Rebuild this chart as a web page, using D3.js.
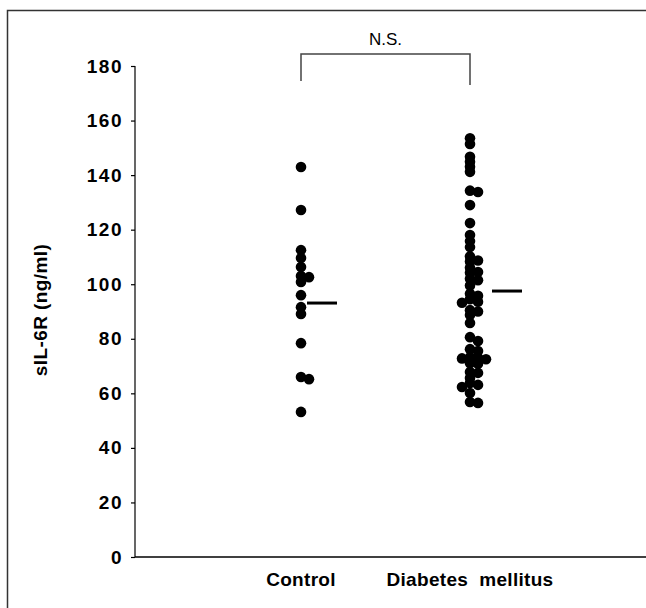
<!DOCTYPE html>
<html>
<head>
<meta charset="utf-8">
<script src="https://cdn.jsdelivr.net/npm/d3@7"></script>
<style>
  body { margin: 0; background: #fff; }
  svg text { font-family: "Liberation Sans", Arial, sans-serif; }
</style>
</head>
<body>
<svg width="646" height="608"></svg>
<script>
// values (ng/ml)
var groups = ["Control", "Diabetes  mellitus"];

var controlValues = [143, 127.2, 112.5, 109.6, 106.3, 103, 102.6, 100.8, 96, 91.6,
    89.1, 78.4, 66, 65.2, 53.2];

var diabetesValues = [153.5, 151.4, 146.7, 144.9, 143.1, 141.2, 134.3, 133.8, 129,
    122.4, 118, 115.8, 113.6, 110.2, 108.7, 108.3, 106, 104.5, 104.2, 102, 101.5, 99.5,
    96.5, 95.8, 94.5, 93.6, 93.2, 90.5, 90, 88.7, 85.8, 80.6, 79.2, 76.2, 75.5, 73.2,
    73, 72.8, 72.5, 71, 70.8, 67.8, 67.5, 65.6, 63.8, 63.1, 62.3, 60.1, 56.8, 56.5];

var groupMeans = [93.1, 97.5];
var yTicks = [0, 20, 40, 60, 80, 100, 120, 140, 160, 180];
var yTitle = "sIL-6R (ng/ml)";
var sigLabel = "N.S.";

var svg = d3.select("svg");
var width = +svg.attr("width");
var height = +svg.attr("height");

// frame around the figure (only top and left show)
svg.append("path")
    .attr("d", "M7.5," + height + "V10.5H" + width)
    .attr("fill", "none")
    .attr("stroke", "#333")
    .attr("stroke-width", 1.5);

var x = d3.scalePoint().domain(groups).range([301, 470]);
var y = d3.scaleLinear().domain([0, 180]).range([557, 66]);
var axisLeftX = 135;

// y axis
var yAxis = svg.append("g")
    .attr("transform", "translate(" + axisLeftX + ",0)")
    .call(d3.axisLeft(y).tickValues(yTicks).tickSize(4).tickPadding(8));
yAxis.select(".domain").attr("d", "M0," + y(180) + "V" + y(0)).attr("stroke-width", 1.2);
yAxis.selectAll(".tick line").attr("stroke-width", 1.2);
yAxis.selectAll("text")
    .attr("font-size", 19)
    .attr("font-weight", "bold")
    .attr("letter-spacing", 1.5)
    .attr("font-family", "Liberation Sans, Arial, sans-serif")
    .attr("fill", "#000");

// x axis line
svg.append("line")
    .attr("x1", axisLeftX).attr("x2", width)
    .attr("y1", y(0)).attr("y2", y(0))
    .attr("stroke", "#000")
    .attr("stroke-width", 1.5);

svg.selectAll(".group-label")
    .data(groups)
    .enter().append("text")
    .attr("class", "group-label")
    .attr("x", function (d) { return x(d); })
    .attr("y", 586)
    .attr("text-anchor", "middle")
    .attr("font-size", 19)
    .attr("font-weight", "bold")
    .attr("letter-spacing", 0.3)
    .style("white-space", "pre")
    .text(function (d) { return d; });

svg.append("text")
    .attr("transform", "translate(47," + 310 + ") rotate(-90)")
    .attr("text-anchor", "middle")
    .attr("font-size", 19)
    .attr("font-weight", "bold")
    .attr("letter-spacing", 0.4)
    .text(yTitle);

// significance bracket
var bracketY = 54;
svg.append("path")
    .attr("d", "M" + x(groups[0]) + ",81V" + bracketY + "H" + x(groups[1]) + "V85")
    .attr("fill", "none")
    .attr("stroke", "#444")
    .attr("stroke-width", 1.5);
svg.append("text")
    .attr("x", (x(groups[0]) + x(groups[1])) / 2)
    .attr("y", 45)
    .attr("text-anchor", "middle")
    .attr("font-size", 17)
    .text(sigLabel);

// simple beeswarm: dots moved sideways only when they nearly coincide
var step = 8, minDist = 4.8, r = 5.3;
function swarm(values, cx) {
    var placed = [];
    values.slice().sort(function (a, b) { return b - a; }).forEach(function (v) {
        var cy = y(v);
        var offsets = [0, step, -step, 2 * step, -2 * step, 3 * step, -3 * step];
        for (var i = 0; i < offsets.length; i++) {
            var px = cx + offsets[i];
            var clash = placed.some(function (p) {
                return Math.hypot(p.x - px, p.y - cy) < minDist;
            });
            if (!clash) { placed.push({x: px, y: cy, v: v}); return; }
        }
    });
    return placed;
}

[controlValues, diabetesValues].forEach(function (vals, i) {
    svg.append("g").selectAll("circle")
        .data(swarm(vals, x(groups[i])))
        .enter().append("circle")
        .attr("cx", function (d) { return d.x; })
        .attr("cy", function (d) { return d.y; })
        .attr("r", r)
        .attr("fill", "#000");
});

// group mean bars
svg.selectAll(".mean")
    .data(groupMeans)
    .enter().append("line")
    .attr("class", "mean")
    .attr("x1", function (d, i) { return x(groups[i]) + 6 + i * 16; })
    .attr("x2", function (d, i) { return x(groups[i]) + 36 + i * 16; })
    .attr("y1", function (d) { return y(d); })
    .attr("y2", function (d) { return y(d); })
    .attr("stroke", "#000")
    .attr("stroke-width", 3);
</script>
</body>
</html>
